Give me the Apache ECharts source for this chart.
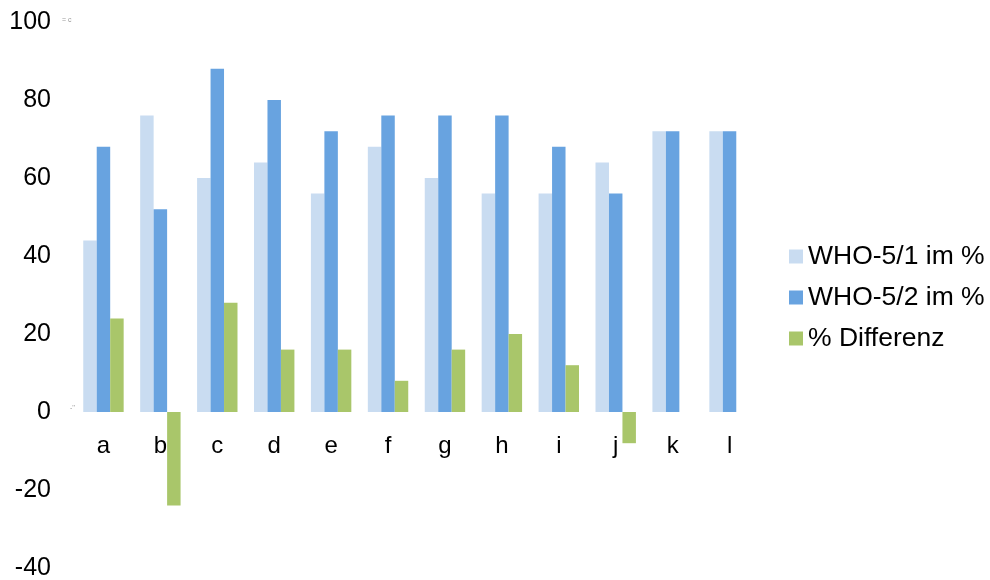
<!DOCTYPE html>
<html>
<head>
<meta charset="utf-8">
<script src="https://cdn.jsdelivr.net/npm/echarts@6/dist/echarts.min.js"></script>
<style>
html,body{margin:0;padding:0;background:#fff;}
#main{width:990px;height:580px;}
</style>
</head>
<body>
<div id="main"></div>
<script>
var categories = ['a','b','c','d','e','f','g','h','i','j','k','l'];
var who1 = [44, 76, 60, 64, 56, 68, 60, 56, 56, 64, 72, 72];
var who2 = [68, 52, 88, 80, 72, 76, 76, 76, 68, 56, 72, 72];
var diff = [24, -24, 28, 16, 16, 8, 16, 20, 12, -8, 0, 0];
var seriesNames = ['WHO-5/1 im %', 'WHO-5/2 im %', '% Differenz'];

var font = 'Liberation Sans, Arial, sans-serif';
var chart = echarts.init(document.getElementById('main'));
var option = {
    animation: false,
    textStyle: {fontFamily: font},
    color: ['#c9dcf1', '#68a3e0', '#a9c66a'],
    grid: {left: 75, right: 232, top: 22, bottom: 12, outerBoundsMode: 'none', containLabel: false},
    legend: {
        orient: 'vertical',
        left: 789,
        top: 243,
        padding: 0,
        itemWidth: 14,
        itemHeight: 14,
        itemGap: 14,
        icon: 'rect',
        textStyle: {fontSize: 26.5, color: '#000', fontFamily: font},
        data: seriesNames
    },
    xAxis: {
        type: 'category',
        data: categories,
        position: 'bottom',
        offset: -156,
        axisLine: {show: false, onZero: false},
        axisTick: {show: false},
        axisLabel: {fontSize: 24, color: '#000', margin: 22, fontFamily: font}
    },
    yAxis: {
        type: 'value',
        min: -40,
        max: 100,
        interval: 20,
        splitLine: {show: false},
        axisLine: {show: false},
        axisTick: {show: false},
        axisLabel: {fontSize: 25, color: '#000', margin: 24, fontFamily: font}
    },
    graphic: [
        {type: 'text', left: 62, top: 17, style: {text: '= c', fontSize: 7, fill: '#999'}},
        {type: 'text', left: 70, top: 405, style: {text: '-\'\'', fontSize: 7, fill: '#999'}}
    ],
    series: [
        {name: seriesNames[0], type: 'bar', data: who1, barGap: '0%', barCategoryGap: '29%'},
        {name: seriesNames[1], type: 'bar', data: who2, barGap: '0%', barCategoryGap: '29%'},
        {name: seriesNames[2], type: 'bar', data: diff, barGap: '0%', barCategoryGap: '29%'}
    ]
};
chart.setOption(option);
</script>
</body>
</html>
